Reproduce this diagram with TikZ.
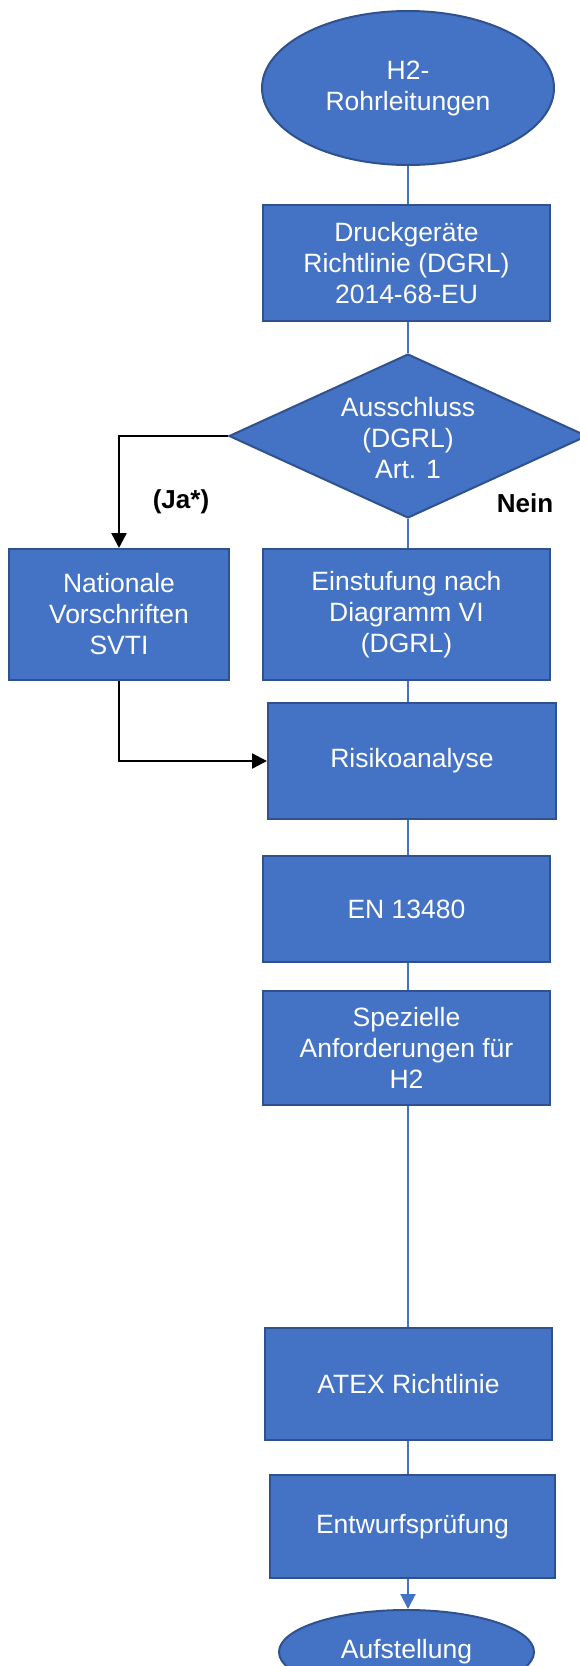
\documentclass[tikz,border=0pt]{standalone}
\usepackage{fontspec}
\setmainfont{Liberation Sans}
\usetikzlibrary{shapes.geometric,arrows.meta}
\definecolor{boxblue}{HTML}{4472C4}
\definecolor{boxborder}{HTML}{2F528F}
\tikzset{
  stepbox/.style={rectangle, draw=boxborder, line width=2pt, fill=boxblue, text=white,
    align=center, inner sep=0pt, font=\fontsize{26.5}{31}\selectfont},
  termbox/.style={ellipse, draw=boxborder, line width=2pt, fill=boxblue, text=white,
    align=center, inner sep=0pt, font=\fontsize{26.5}{31}\selectfont},
  decbox/.style={diamond, draw=boxborder, line width=2pt, fill=boxblue, inner sep=0pt},
  dectext/.style={text=white, align=center, inner sep=0pt, font=\fontsize{26.5}{31}\selectfont},
  flow/.style={draw=boxblue, line width=2pt},
  blackflow/.style={draw=black, line width=2.4pt, -{Triangle[length=15pt,width=15pt]}},
  lbl/.style={font=\bfseries\fontsize{26}{30}\selectfont, inner sep=0pt}
}
\begin{document}
\begin{tikzpicture}[x=1pt,y=-1pt]
\useasboundingbox (0,0) rectangle (579,1666);
\node[termbox, minimum width=292pt, minimum height=154pt] (e1) at (408,88) {H2-\\Rohrleitungen};
\node[stepbox, minimum width=287pt, minimum height=116pt] (b1) at (406.5,263) {Druckgeräte\\Richtlinie (DGRL)\\2014-68-EU};
\node[decbox, minimum width=358pt, minimum height=164pt] (d) at (408,436) {};
\node[dectext] (dt) at (408,438) {Ausschluss\\(DGRL)\\Art. 1};
\node[stepbox, minimum width=220pt, minimum height=131pt] (nat) at (119,614.5) {Nationale\\Vorschriften\\SVTI};
\node[stepbox, minimum width=287pt, minimum height=131pt] (ein) at (406.5,614.5) {Einstufung nach\\Diagramm VI\\(DGRL)};
\node[stepbox, minimum width=288pt, minimum height=116pt] (risk) at (412,761) {Risikoanalyse};
\node[stepbox, minimum width=287pt, minimum height=106pt] (en) at (406.5,909) {EN 13480};
\node[stepbox, minimum width=287pt, minimum height=114pt] (spez) at (406.5,1048) {Spezielle\\Anforderungen für\\H2};
\node[stepbox, minimum width=287pt, minimum height=112pt] (atex) at (408.5,1384) {ATEX Richtlinie};
\node[stepbox, minimum width=285pt, minimum height=103pt] (ent) at (412.5,1526.5) {Entwurfsprüfung};
\node[termbox, minimum width=255pt, minimum height=84pt] (auf) at (406.5,1652) {Aufstellung};
\node[lbl] (ja) at (181,502) {(Ja*)};
\node[lbl] (nein) at (525,503) {Nein};
% blue connectors
\coordinate (cx) at (408,0);
\draw[flow] (cx |- e1.south) -- (cx |- b1.north);
\draw[flow] (cx |- b1.south) -- (cx |- d.north);
\draw[flow] (cx |- d.south) -- (cx |- ein.north);
\draw[flow] (cx |- ein.south) -- (cx |- risk.north);
\draw[flow] (cx |- risk.south) -- (cx |- en.north);
\draw[flow] (cx |- en.south) -- (cx |- spez.north);
\draw[flow] (cx |- spez.south) -- (cx |- atex.north);
\draw[flow] (cx |- atex.south) -- (cx |- ent.north);
\draw[flow, -{Triangle[length=15pt,width=15pt]}, fill=boxblue] (cx |- ent.south) -- (cx |- auf.north);
% black connectors
\draw[blackflow] (d.west) -| (nat.north);
\draw[blackflow] (nat.south) |- (risk.west);
\end{tikzpicture}
\end{document}
